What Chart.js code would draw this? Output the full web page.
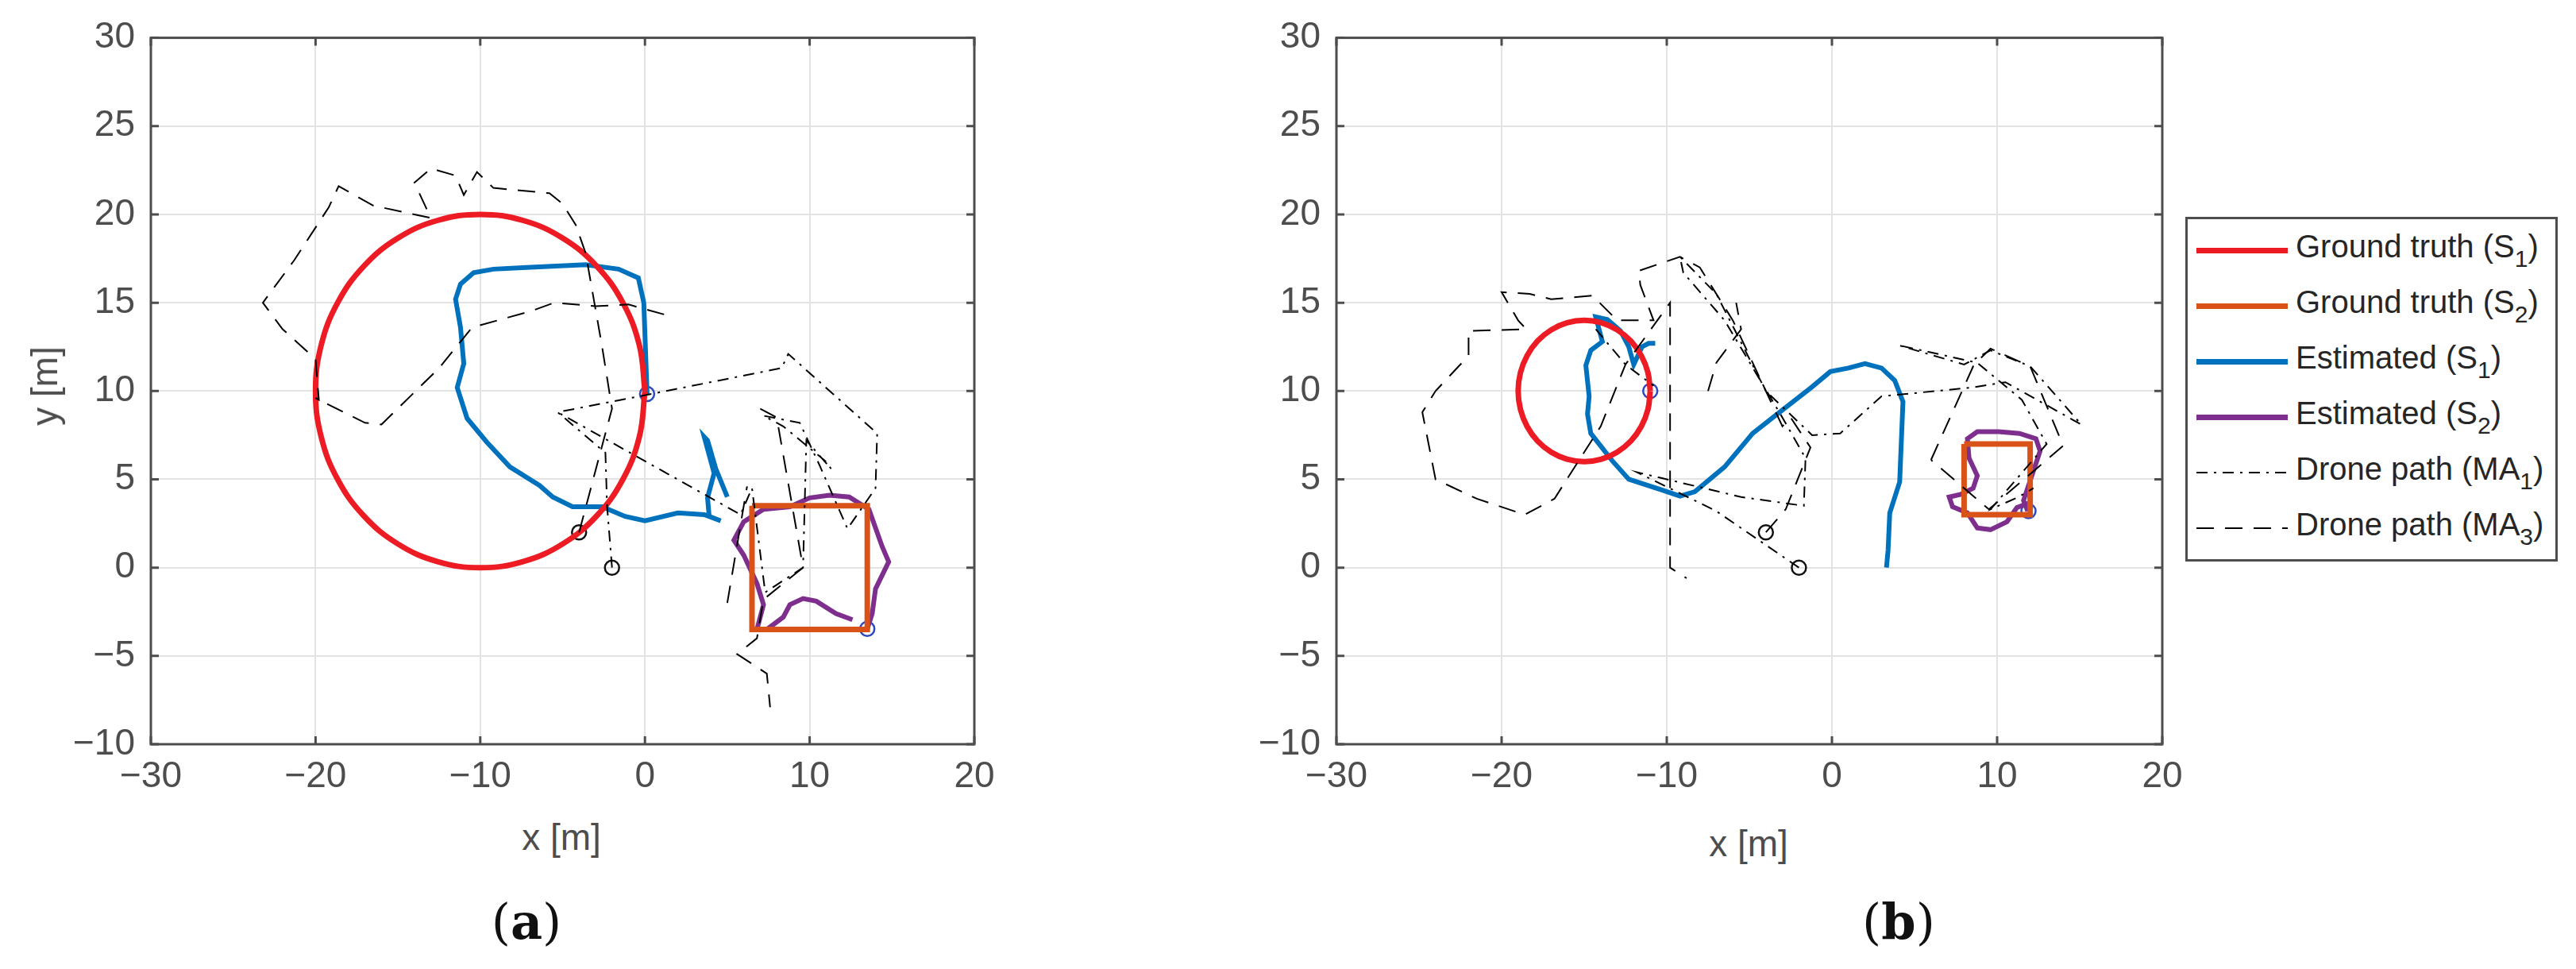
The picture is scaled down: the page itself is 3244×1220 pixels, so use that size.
<!DOCTYPE html>
<html>
<head>
<meta charset="utf-8">
<script src="https://cdn.jsdelivr.net/npm/chart.js@4.4.1/dist/chart.umd.min.js"></script>
<style>
  body { margin: 0; background: #fff; width: 3244px; height: 1220px; position: relative; overflow: hidden; font-family: "Liberation Sans", Arial, sans-serif; }
  canvas { position: absolute; }
  .lbl { position: absolute; color: #4d4d4d; font-size: 46px; white-space: nowrap; transform: translate(-50%, -50%); }
  .cap { position: absolute; font-family: "DejaVu Serif", "Liberation Serif", serif; font-size: 62px; color: #111; transform: translate(-50%, -50%); }
  .cap b { font-weight: bold; }
  #legend { position: absolute; left: 2752px; top: 273px; width: 463px; height: 428px; border: 3px solid #4d4d4d; background: #fff; }
  .row { position: absolute; left: 0; height: 70px; display: flex; align-items: center; }
  .sw { width: 115px; height: 0; margin-left: 11px; margin-right: 10px; }
  .txt { font-size: 40px; color: #262626; }
  .txt sub { font-size: 30px; vertical-align: -12px; }
</style>
</head>
<body>
<canvas id="chartA" style="left:0;top:0;width:1300px;height:1000px"></canvas>
<canvas id="chartB" style="left:1490px;top:0;width:1300px;height:1000px"></canvas>

<div class="lbl" style="left:707px;top:1054px">x [m]</div>
<div class="lbl" style="left:56px;top:486px;transform:translate(-50%,-50%) rotate(-90deg)">y [m]</div>
<div class="lbl" style="left:2202px;top:1062px">x [m]</div>
<div class="cap" style="left:663px;top:1160px">(<b>a</b>)</div>
<div class="cap" style="left:2391px;top:1160px">(<b>b</b>)</div>

<div id="legend">
  <div class="row" style="top:4px"><div class="sw" style="border-top:7px solid #ED1C24"></div><span class="txt">Ground truth (S<sub>1</sub>)</span></div>
  <div class="row" style="top:74px"><div class="sw" style="border-top:7px solid #D95319"></div><span class="txt">Ground truth (S<sub>2</sub>)</span></div>
  <div class="row" style="top:144px"><div class="sw" style="border-top:7px solid #0072BD"></div><span class="txt">Estimated (S<sub>1</sub>)</span></div>
  <div class="row" style="top:214px"><div class="sw" style="border-top:7px solid #7E2F8E"></div><span class="txt">Estimated (S<sub>2</sub>)</span></div>
  <div class="row" style="top:284px"><canvas id="swDashDot" width="115" height="10" style="position:static;margin:0 10px 0 11px"></canvas><span class="txt">Drone path (MA<sub>1</sub>)</span></div>
  <div class="row" style="top:354px"><canvas id="swDash" width="115" height="10" style="position:static;margin:0 10px 0 11px"></canvas><span class="txt">Drone path (MA<sub>3</sub>)</span></div>
</div>

<script>
// ---------- panel (a) ----------
const gtCircleA_x = [0,-0.34,-1.34,-2.93,-5,-7.41,-10,-12.59,-15,-17.07,-18.66,-19.66,-20,-19.66,-18.66,-17.07,-15,-12.59,-10,-7.41,-5,-2.93,-1.34,-0.34,0];
const gtCircleA_y = [10,12.59,15,17.07,18.66,19.66,20,19.66,18.66,17.07,15,12.59,10,7.41,5,2.93,1.34,0.34,0,0.34,1.34,2.93,5,7.41,10];
const gtSquareA_x = [6.5,13.5,13.5,6.5,6.5];
const gtSquareA_y = [3.5,3.5,-3.5,-3.5,3.5];
const estS1A_x = [0.13,-0.07,-0.4,-1.6,-3.6,-7.2,-9.2,-10.4,-11.2,-11.5,-11.2,-11.0,-11.4,-10.8,-9.6,-8.2,-6.4,-5.6,-4.4,-2.6,-1.2,0.0,2.0,3.6,4.6,3.9,3.8,4.2,3.6,3.8,4.3,5.0];
const estS1A_y = [9.83,15.0,16.4,16.9,17.15,17.0,16.9,16.7,16.05,15.2,13.6,11.55,10.2,8.45,7.1,5.7,4.65,4.0,3.45,3.45,2.9,2.65,3.1,3.0,2.65,2.9,3.95,5.35,7.4,7.2,5.6,4.0];
const estS2A_x = [13.5,13.8,14.0,14.8,14.4,13.6,12.4,11.2,10.0,8.8,7.2,6.0,5.4,6.0,6.8,7.2,6.8,7.4,8.4,8.8,9.6,10.4,11.6,12.6];
const estS2A_y = [-3.47,-2.6,-1.2,0.33,1.2,3.3,4.0,4.1,3.95,3.45,3.3,2.6,1.55,0.7,-0.9,-2.1,-3.5,-3.5,-2.8,-2.1,-1.75,-1.9,-2.6,-2.95];
const ma1A_x = [-2,-2.3,-2.4,-5.3,0.2,8.3,8.7,14.1,14.0,12.3,10.6,9.4,7.2,8.4,11.0,11.3,9.8,9.6,7.3,6.5,5.8,-5.3];
const ma1A_y = [0,3.5,6.5,8.8,9.8,11.3,12.1,7.6,4.5,2.2,5.8,8.2,8.6,8.0,6.0,5.6,7.2,0.0,-1.4,4.5,3.0,8.8];
const ma3A_x = [-4,-3.0,-2.0,-2.6,-3.6,-4.2,-5.0,-5.8,-9.2,-10.2,-11.0,-11.5,-13.0,-14.0,-13.0,-16.5,-18.6,-19.2,-21.3,-23.2,-22.0,-20.0,-19.8,-20.0,-17.0,-16.0,-12.5,-10.5,-7.0,-5.5,-3.0,-1.0,1.3];
const ma3A_y = [2,5.5,9.0,12.5,17.8,19.4,20.6,21.2,21.5,22.4,21.1,22.2,22.6,21.8,19.8,20.5,21.6,20.4,17.4,15.0,13.5,11.8,9.5,9.6,8.2,8.1,11.3,13.6,14.5,15.0,14.8,14.9,14.3];
const ma3A2_x = [5.0,6.2];
const ma3A2_y = [-2.0,4.6];
const ma3A3_x = [7.0,8.0,9.6,7.2,6.8,5.6,7.4,7.6];
const ma3A3_y = [9.0,8.5,0.0,-1.8,-4.0,-4.9,-6.0,-7.9];
const blueMarkA_x = [0.13,13.5];
const blueMarkA_y = [9.83,-3.47];
const blackMark_x = [-4,-2];
const blackMark_y = [2,0];

// ---------- panel (b) ----------
const gtCircleB_x = [-11,-11.14,-11.54,-12.17,-13,-13.96,-15,-16.04,-17,-17.83,-18.46,-18.86,-19,-18.86,-18.46,-17.83,-17,-16.04,-15,-13.96,-13,-12.17,-11.54,-11.14,-11];
const gtCircleB_y = [10,11.04,12,12.83,13.46,13.86,14,13.86,13.46,12.83,12,11.04,10,8.96,8,7.17,6.54,6.14,6,6.14,6.54,7.17,8,8.96,10];
const gtSquareB_x = [8,12,12,8,8];
const gtSquareB_y = [7,7,3,3,7];
const estS1B_x = [3.3,3.4,3.5,4.1,4.3,3.8,3.0,2.0,1.0,-0.1,-1.25,-3.3,-4.8,-6.5,-8.3,-9.2,-10.3,-12.3,-13.3,-14.6,-14.8,-14.7,-14.9,-14.6,-13.9,-14.3,-13.6,-12.8,-12.3,-12.0,-11.5,-11.1,-10.7];
const estS1B_y = [0.0,1.0,3.1,4.85,9.4,10.6,11.3,11.55,11.3,11.1,10.2,8.7,7.6,5.7,4.3,4.05,4.4,5.0,6.05,7.6,8.7,9.7,11.45,12.3,12.8,14.2,14.05,13.4,12.5,11.5,12.5,12.7,12.7];
const estS2B_x = [11.85,11.6,12.1,12.6,12.35,11.35,10.1,8.8,8.2,8.3,8.8,8.55,7.8,7.1,7.3,8.2,8.8,9.6,10.6,11.2,11.9];
const estS2B_y = [3.2,3.8,5.2,6.6,7.3,7.6,7.7,7.7,7.3,6.2,5.2,4.5,4.15,4.0,3.45,3.1,2.25,2.15,2.6,3.4,3.65];
const ma1B_x = [-2,-7.0,-11.8,-5.5,-1.7,-1.6,-3.0,-6.5,-9.0,-9.2,-7.0,-4.0,-1.2,0.5,3.0,8.5,10.5,15.1,12.0,9.6,8.0,4.0,8.8,11.5,13.0,9.6,11.3,12.2];
const ma1B_y = [0,3.2,5.4,4.0,3.5,6.2,8.5,14.0,16.7,17.6,15.5,10.0,7.5,7.6,9.7,10.2,10.5,8.1,11.4,12.3,11.5,12.6,11.6,9.5,7.0,3.3,4.0,4.5];
const ma1B2_x = [-14.3,-12.5,-10.8];
const ma1B2_y = [13.5,11.5,10.3];
const ma3B_x = [-4,-2.8,-1.3,-2.5,-3.0,-6.0,-8.0,-9.2,-11.7,-11.6,-10.8,-13.0,-14.5,-17.0,-18.3,-20.0,-19.0,-18.5,-22.0,-22.0,-24.0,-24.8,-24.0,-21.5,-18.6,-16.8,-14.0,-12.5,-9.8,-9.8,-8.8];
const ma3B_y = [2,3.3,6.8,8.5,8.0,14.0,17.0,17.6,16.8,16.0,14.0,14.0,15.4,15.2,15.5,15.6,14.0,13.5,13.4,12.0,10.0,8.8,5.0,3.9,3.0,3.9,8.0,11.5,15.0,0.0,-0.6];
const ma3B2_x = [-7.5,-7.0,-5.5,-5.8];
const ma3B2_y = [10.0,11.6,13.5,15.0];
const ma3B3_x = [6.0,8.6,9.6,12.0,14.0,9.5,6.0];
const ma3B3_y = [6.1,11.5,12.4,11.4,6.9,3.3,6.1];
const blueMarkB_x = [-11,11.9];
const blueMarkB_y = [10,3.2];

const xTicks = [-30,-20,-10,0,10,20];
const yTicks = [-10,-5,0,5,10,15,20,25,30];

const RED = '#ED1C24', ORANGE = '#D95319', BLUE = '#0072BD', PURPLE = '#7E2F8E';
const DASHDOT = [14,8,3,8];
const DASH = [22,14];

const pts = (xs, ys) => xs.map((x, i) => ({ x: x, y: ys[i] }));
const lineDs = (xs, ys, color, width, dash, tension) => ({
  data: pts(xs, ys), showLine: true, borderColor: color, borderWidth: width,
  borderDash: dash || [], pointRadius: 0, tension: tension || 0, fill: false
});
const markDs = (xs, ys, color) => ({
  data: pts(xs, ys), showLine: false, pointRadius: 9, pointBorderWidth: 2.5,
  pointBorderColor: color, pointBackgroundColor: 'rgba(0,0,0,0)'
});
const fmt = v => v < 0 ? '\u2212' + Math.abs(v) : String(v);

// draw the full box around the plot area like MATLAB's axes
const boxPlugin = {
  id: 'box',
  afterDraw(chart) {
    const a = chart.chartArea, c = chart.ctx;
    c.save();
    c.strokeStyle = '#4d4d4d';
    c.lineWidth = 3;
    c.strokeRect(a.left, a.top, a.right - a.left, a.bottom - a.top);
    c.beginPath();
    const xs = chart.scales.x, ys = chart.scales.y;
    xTicks.forEach(t => { const px = xs.getPixelForValue(t);
      c.moveTo(px, a.bottom); c.lineTo(px, a.bottom - 10); c.moveTo(px, a.top); c.lineTo(px, a.top + 10); });
    yTicks.forEach(t => { const py = ys.getPixelForValue(t);
      c.moveTo(a.left, py); c.lineTo(a.left + 10, py); c.moveTo(a.right, py); c.lineTo(a.right - 10, py); });
    c.stroke();
    c.restore();
  }
};

function makeChart(id, datasets, yWidth, rightPad) {
  return new Chart(document.getElementById(id), {
    type: 'scatter',
    data: { datasets: datasets },
    options: {
      responsive: false, animation: false, devicePixelRatio: 1,
      layout: { padding: { top: 36, right: rightPad, left: 0, bottom: 0 } },
      plugins: { legend: { display: false }, tooltip: { enabled: false } },
      scales: {
        x: {
          type: 'linear', min: -30, max: 20,
          afterBuildTicks: s => { s.ticks = xTicks.map(v => ({ value: v })); },
          afterFit: s => { s.height = 63; },
          grid: { color: '#e3e3e3', lineWidth: 2, drawTicks: false },
          border: { display: false },
          ticks: { color: '#4d4d4d', font: { size: 46, family: 'Liberation Sans' }, padding: 14, callback: fmt, maxRotation: 0 }
        },
        y: {
          type: 'linear', min: -10, max: 30,
          afterBuildTicks: s => { s.ticks = yTicks.map(v => ({ value: v })); },
          afterFit: s => { s.width = yWidth; },
          grid: { color: '#e3e3e3', lineWidth: 2, drawTicks: false },
          border: { display: false },
          ticks: { color: '#4d4d4d', font: { size: 46, family: 'Liberation Sans' }, padding: 20, callback: fmt }
        }
      }
    },
    plugins: [boxPlugin]
  });
}

[['chartA'], ['chartB']].forEach(([id]) => {
  const cv = document.getElementById(id);
  cv.width = 1300; cv.height = 1000;
});

makeChart('chartA', [
  lineDs(ma3A_x, ma3A_y, '#000', 2, DASH),
  lineDs(ma3A2_x, ma3A2_y, '#000', 2, DASH),
  lineDs(ma3A3_x, ma3A3_y, '#000', 2, DASH),
  lineDs(ma1A_x, ma1A_y, '#000', 2, DASHDOT),
  lineDs(gtCircleA_x, gtCircleA_y, RED, 7, null, 0.4),
  lineDs(gtSquareA_x, gtSquareA_y, ORANGE, 7),
  lineDs(estS1A_x, estS1A_y, BLUE, 6),
  lineDs(estS2A_x, estS2A_y, PURPLE, 6),
  markDs(blueMarkA_x, blueMarkA_y, '#2E48C0'),
  markDs(blackMark_x, blackMark_y, '#111')
], 190, 73);

makeChart('chartB', [
  lineDs(ma3B_x, ma3B_y, '#000', 2, DASH),
  lineDs(ma3B2_x, ma3B2_y, '#000', 2, DASH),
  lineDs(ma3B3_x, ma3B3_y, '#000', 2, DASH),
  lineDs(ma1B_x, ma1B_y, '#000', 2, DASHDOT),
  lineDs(ma1B2_x, ma1B2_y, '#000', 2, DASHDOT),
  lineDs(gtCircleB_x, gtCircleB_y, RED, 7, null, 0.4),
  lineDs(gtSquareB_x, gtSquareB_y, ORANGE, 7),
  lineDs(estS1B_x, estS1B_y, BLUE, 6),
  lineDs(estS2B_x, estS2B_y, PURPLE, 6),
  markDs(blueMarkB_x, blueMarkB_y, '#2E48C0'),
  markDs(blackMark_x, blackMark_y, '#111')
], 193, 67);

// legend swatches for the dashed styles
[['swDashDot', DASHDOT], ['swDash', DASH]].forEach(([id, dash]) => {
  const c = document.getElementById(id).getContext('2d');
  c.strokeStyle = '#000'; c.lineWidth = 2; c.setLineDash(dash);
  c.beginPath(); c.moveTo(0, 5); c.lineTo(115, 5); c.stroke();
});
</script>
</body>
</html>
